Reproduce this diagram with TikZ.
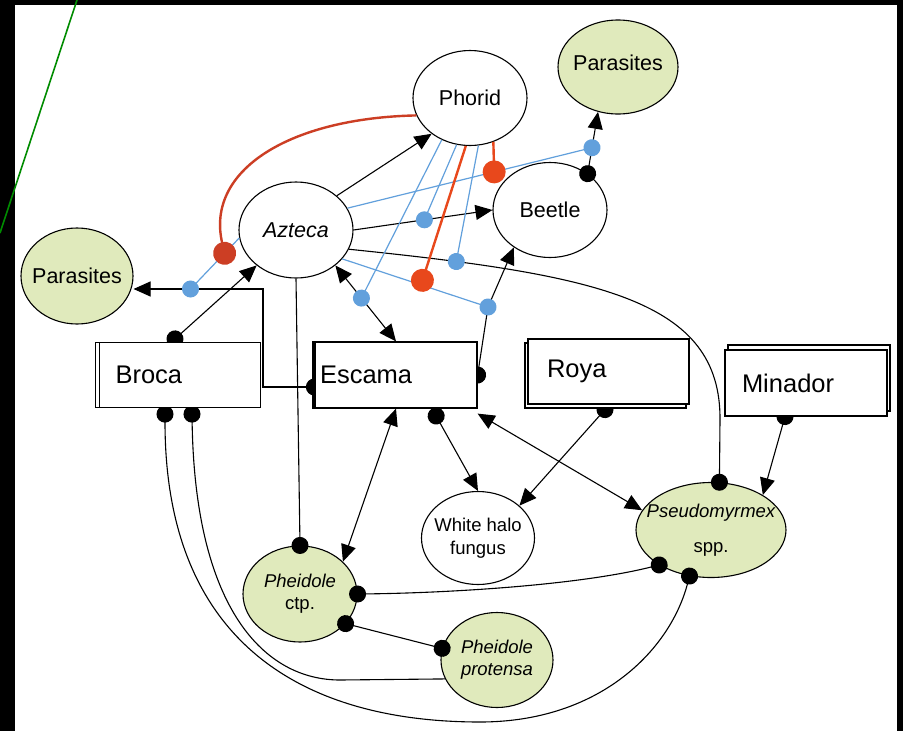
\documentclass[tikz,border=0pt]{standalone}
\usepackage{fontspec}
\setmainfont{Liberation Sans}
\usetikzlibrary{arrows.meta}
\usetikzlibrary{shapes.geometric}
\usetikzlibrary{shadows}
\definecolor{antgreen}{RGB}{224,234,188}
\definecolor{modblue}{RGB}{98,160,220}
\definecolor{modred}{RGB}{232,72,28}
\definecolor{phoridred}{RGB}{204,62,36}
\definecolor{slidegreen}{RGB}{0,140,0}
\pgfdeclarelayer{front}
\pgfsetlayers{main,front}
\tikzset{
  species/.style={ellipse, draw, line width=1.1pt, fill=white, inner sep=-25pt,
      minimum width=114pt, minimum height=95pt, align=center,
      font=\fontsize{21.5}{25}\selectfont},
  ant/.style={species, fill=antgreen, font=\fontsize{18.5}{22}\selectfont},
  disease/.style={draw, line width=1.2pt, fill=white, minimum width=161pt,
      minimum height=65pt, align=left, font=\fontsize{25.5}{30}\selectfont},
  link/.style={line width=1.1pt},
  arr/.style={link, -{Triangle[length=17pt,width=15pt]}},
  darr/.style={link, {Triangle[length=17pt,width=15pt]}-{Triangle[length=17pt,width=15pt]}},
  dotarrow/.style={link, {Circle[length=17pt]}-{Triangle[length=17pt,width=15pt]}, shorten <=-8.5pt},
  dotline/.style={link, {Circle[length=17pt]}-, shorten <=-8.5pt},
  linedot/.style={link, -{Circle[length=17pt]}, shorten >=-8.5pt},
  dotdot/.style={link, {Circle[length=17pt]}-{Circle[length=17pt]}, shorten <=-8.5pt, shorten >=-8.5pt},
  bluemod/.style={modblue, line width=1.2pt, -{Circle[length=17pt]}, shorten >=-8.5pt},
  redmod/.style={modred, line width=2.4pt, -{Circle[length=23pt]}, shorten >=-11.5pt},
}
\begin{document}
\begin{tikzpicture}[x=1pt, y=-1pt]
  \useasboundingbox (0,0) rectangle (903,731);
  \fill[black] (0,0) rectangle (903,731);
  \fill[white] (15,5) rectangle (897,731);

  % species
  \node[species] (phorid) at (470,98) {Phorid};
  \node[species, fill=antgreen, minimum width=120pt, minimum height=94pt, text depth=9pt] (part) at (618,67) {Parasites};
  \node[species] (beetle) at (550,210) {Beetle};
  \node[species, minimum height=96pt] (azteca) at (296,230) {\itshape Azteca};
  \node[species, fill=antgreen, minimum width=112pt, minimum height=96pt] (parl) at (77,276) {Parasites};
  \node[species, minimum width=113pt, minimum height=93pt, font=\fontsize{18.5}{23}\selectfont] (whf) at (478,538) {White halo\\fungus};
  \node[ant, minimum height=96pt] (pctp) at (300,594) {\itshape Pheidole\\ctp.};
  \node[ant, minimum width=112pt] (ppro) at (497,660) {\itshape Pheidole\\\itshape protensa};
  \node[ant, minimum width=150pt] (pseudo) at (711,530) {\itshape Pseudomyrmex\\[13pt]spp.};

  % diseases and pests
  \begin{pgfonlayer}{front}
    \node[disease, inner xsep=16pt, text width=129pt, copy shadow={shadow xshift=-4pt, shadow yshift=0pt}] (broca) at (180,375) {Broca};
    \node[disease, inner xsep=5pt, text width=152pt, minimum height=66pt, copy shadow={shadow xshift=-2pt, shadow yshift=0pt}] (escama) at (396,375) {Escama};
    \node[disease, inner xsep=19pt, text width=123pt, copy shadow={shadow xshift=-3pt, shadow yshift=-4pt}] (roya) at (608.5,371.5) {Roya};
    \node[disease, inner xsep=17pt, text width=128pt, minimum height=66pt, copy shadow={shadow xshift=3pt, shadow yshift=5pt}] (minador) at (806,383) {Minador};
  \end{pgfonlayer}

  \coordinate (esbend) at (263,289);
  \coordinate (onbe) at (488,307);

  % black links
  \draw[arr] (azteca.40) -- (phorid.223);
  \draw[arr] (azteca.0) -- coordinate[pos=.51] (onab) (beetle.180);
  \draw[darr] (azteca.-42) -- coordinate[pos=.43] (onae) (escama.north);
  \draw[dotarrow] ([xshift=-5pt,yshift=3pt]broca.north) -- (azteca.222);
  \draw[linedot] (azteca.south) -- (pctp.north);
  \draw[dotarrow] ([yshift=-12pt]escama.west) -| (esbend) -- coordinate[pos=.56] (onep) (esbend -| parl.east);
  \draw[dotarrow] (escama.east) -- (onbe) -- (beetle.226);
  \draw[dotarrow] (beetle.44) -- coordinate[pos=.42] (onbp) (part.246);
  \draw[linedot] (azteca.-20) .. controls (600,275) and (721,300) .. (720,420) coordinate[pos=.155] (onap) -- (pseudo.80);
  \draw[dotarrow] ([xshift=-21pt]minador.south) -- (pseudo.34);
  \draw[dotarrow] ([xshift=-3.5pt,yshift=-5pt]roya.south) -- (whf.38);
  \draw[link, {Circle[length=17pt]}-{Triangle[length=17pt,width=15pt]}] ([xshift=36pt]escama.south) -- (whf.north);
  \draw[darr] ([yshift=-5pt]escama.south east) -- (pseudo.164);
  \draw[darr] (escama.south) -- (pctp.37);
  \draw[dotdot] (pctp.0) .. controls (450,593) and (580,585) .. (pseudo.214.5);
  \draw[dotdot] (pctp.-33) -- (ppro.168);
  \draw[dotline] ([xshift=12pt,yshift=-6pt]broca.south) .. controls (195,610) and (265,680) .. (340,680) -- (ppro.200);
  \draw[dotdot] ([xshift=-15pt,yshift=-6pt]broca.south) .. controls (165,640) and (300,722) .. (480,722)
    .. controls (600,722) and (670,650) .. (pseudo.245.5);

  % blue modifiers
  \draw[bluemod] (azteca.188) -- coordinate[pos=.3] (onbl) (onep);
  \draw[bluemod] (phorid.236) -- (onae);
  \draw[bluemod] (phorid.254) -- (onab);
  \draw[bluemod] (phorid.280) -- (onap);
  \draw[bluemod] (azteca.23) -- coordinate[pos=.6] (onpb) (onbp);
  \draw[bluemod] (azteca.-32) -- coordinate[pos=.55] (onbb) (onbe);

  % red modifiers
  \draw[redmod, phoridred] (phorid.198) .. controls (290,118) and (205,170) .. (onbl);
  \draw[redmod] (phorid.265) -- ([yshift=5pt]onbb);
  \draw[redmod] (phorid.298) -- (onpb);

  \coordinate (gtop) at (77,0);
  \coordinate (gbot) at (0,233);
  \draw[slidegreen, line width=1.6pt] (gtop) -- (gbot);
\end{tikzpicture}
\end{document}
